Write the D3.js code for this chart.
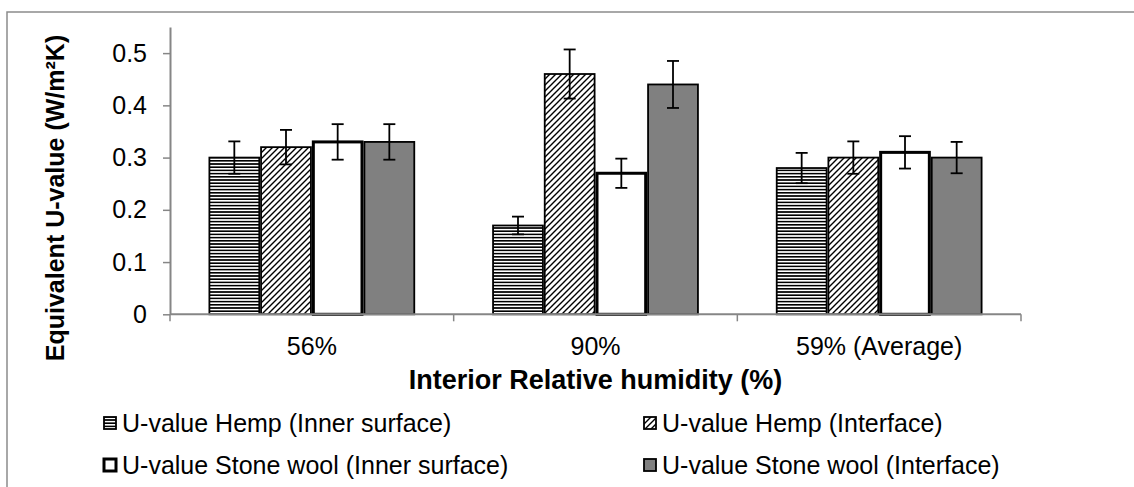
<!DOCTYPE html>
<html><head><meta charset="utf-8">
<script src="https://cdn.jsdelivr.net/npm/d3@7"></script>
<style>body{margin:0;background:#fff}svg{display:block}</style>
</head><body><svg id="c" width="1134" height="487"></svg>
<script>
const categories = ["56%", "90%", "59% (Average)"];
const seriesNames = ["U-value Hemp (Inner surface)", "U-value Hemp (Interface)", "U-value Stone wool (Inner surface)", "U-value Stone wool (Interface)"];
const hempInner = [0.30, 0.17, 0.28];
const hempInterface = [0.32, 0.46, 0.30];
const stoneInner = [0.33, 0.27, 0.31];
const stoneInterface = [0.33, 0.44, 0.30];
const errHempInner = [0.031, 0.017, 0.029];
const errHempInterface = [0.033, 0.047, 0.031];
const errStoneInner = [0.034, 0.028, 0.031];
const errStoneInterface = [0.034, 0.045, 0.030];
const yTicks = [0, 0.1, 0.2, 0.3, 0.4, 0.5];
const yTitle = "Equivalent U-value (W/m²K)";
const xTitle = "Interior Relative humidity (%)";

const values = [hempInner, hempInterface, stoneInner, stoneInterface];
const errors = [errHempInner, errHempInterface, errStoneInner, errStoneInterface];

const svg = d3.select("#c");
const FONT = "Arial, 'Liberation Sans', sans-serif";
const axisColor = "#868686";

// patterns
const defs = svg.append("defs");
const pH = defs.append("pattern").attr("id", "horiz").attr("patternUnits", "userSpaceOnUse")
  .attr("width", 8).attr("height", 3.2);
pH.append("rect").attr("width", 8).attr("height", 3.2).attr("fill", "#fff");
pH.append("rect").attr("y", 0).attr("width", 8).attr("height", 1.6).attr("fill", "#000");
const pD = defs.append("pattern").attr("id", "diag").attr("patternUnits", "userSpaceOnUse")
  .attr("width", 6).attr("height", 6);
pD.append("rect").attr("width", 6).attr("height", 6).attr("fill", "#fff");
pD.append("path").attr("d", "M-1,7 L7,-1 M-4,4 L4,-4 M2,10 L10,2").attr("stroke", "#000")
  .attr("stroke-width", 1.4);

const fills = ["url(#horiz)", "url(#diag)", "#ffffff", "#808080"];
const strokeW = [1.8, 1.8, 3, 1.8];

// border
svg.append("path").attr("d", "M7,500 V12 H1140").attr("fill", "none")
  .attr("stroke", "#8c8c8c").attr("stroke-width", 1.5);

const x0 = 170, x1 = 1021, yTop = 27, yBot = 314.3;
const x = d3.scaleBand().domain(categories).range([x0, x1]).paddingInner(0.2714).paddingOuter(0.1357);
const xs = d3.scaleBand().domain(seriesNames).range([0, x.bandwidth()]);
const y = d3.scaleLinear().domain([0, 0.55]).range([yBot, yTop]);

// y axis
const yAxis = svg.append("g").attr("transform", `translate(${x0},0)`)
  .call(d3.axisLeft(y).tickValues(yTicks).tickSize(7).tickPadding(16).tickFormat(d => String(d)).tickSizeOuter(0));
yAxis.select(".domain").attr("stroke", axisColor).attr("stroke-width", 2);
yAxis.selectAll(".tick line").attr("stroke", axisColor).attr("stroke-width", 1.5);
yAxis.selectAll(".tick text").attr("font-family", FONT).attr("font-size", 25).attr("fill", "#000");

// x axis (labels only) + boundary ticks
const xAxis = svg.append("g").attr("transform", `translate(0,${yBot})`)
  .call(d3.axisBottom(x).tickSize(0).tickPadding(23).tickSizeOuter(0));
xAxis.select(".domain").remove();
xAxis.selectAll(".tick text").attr("font-family", FONT).attr("font-size", 25).attr("fill", "#000");
const bounds = categories.map(c => x(c) - x.step() * x.paddingInner() / 2).concat([x1]);
bounds[0] = x0;
svg.append("g").selectAll("line").data(bounds).join("line")
  .attr("x1", d => d).attr("x2", d => d).attr("y1", yBot).attr("y2", yBot + 7)
  .attr("stroke", axisColor).attr("stroke-width", 1.5);

// bars
const bars = svg.append("g");
seriesNames.forEach((s, si) => {
  bars.selectAll(null).data(categories).join("rect")
    .attr("x", c => x(c) + xs(s) + strokeW[si] / 2)
    .attr("width", xs.bandwidth() - strokeW[si])
    .attr("y", (c, ci) => y(values[si][ci]))
    .attr("height", (c, ci) => yBot - y(values[si][ci]))
    .attr("fill", fills[si]).attr("stroke", "#000").attr("stroke-width", strokeW[si]);
});
svg.append("line").attr("x1", x0).attr("x2", x1).attr("y1", yBot).attr("y2", yBot)
  .attr("stroke", axisColor).attr("stroke-width", 2);

// error bars
const eb = svg.append("g").attr("stroke", "#000").attr("stroke-width", 1.8);
seriesNames.forEach((s, si) => {
  categories.forEach((c, ci) => {
    const cx = x(c) + xs(s) + xs.bandwidth() / 2;
    const v = values[si][ci], e = errors[si][ci];
    eb.append("line").attr("x1", cx).attr("x2", cx).attr("y1", y(v + e)).attr("y2", y(v - e));
    eb.append("line").attr("x1", cx - 6).attr("x2", cx + 6).attr("y1", y(v + e)).attr("y2", y(v + e));
    eb.append("line").attr("x1", cx - 6).attr("x2", cx + 6).attr("y1", y(v - e)).attr("y2", y(v - e));
  });
});

// axis titles
svg.append("text").attr("x", (x0 + x1) / 2).attr("y", 389).attr("text-anchor", "middle")
  .attr("font-family", FONT).attr("font-weight", "bold").attr("font-size", 27).text(xTitle);
svg.append("text").attr("transform", "translate(64,198) rotate(-90)").attr("text-anchor", "middle")
  .attr("font-family", FONT).attr("font-weight", "bold").attr("font-size", 25).text(yTitle);

// legend
const legPos = [[103, 423], [643, 423], [103, 465], [643, 465]];
const leg = svg.append("g");
seriesNames.forEach((s, si) => {
  const [lx, ly] = legPos[si];
  leg.append("rect").attr("x", lx + 1).attr("y", ly - 6).attr("width", 12).attr("height", 12)
    .attr("fill", fills[si]).attr("stroke", "#000").attr("stroke-width", si === 2 ? 3 : 1.8);
  leg.append("text").attr("x", lx + 19).attr("y", ly).attr("dy", "0.35em")
    .attr("font-family", FONT).attr("font-size", 25).attr("fill", "#000").text(s);
});
</script></body></html>
